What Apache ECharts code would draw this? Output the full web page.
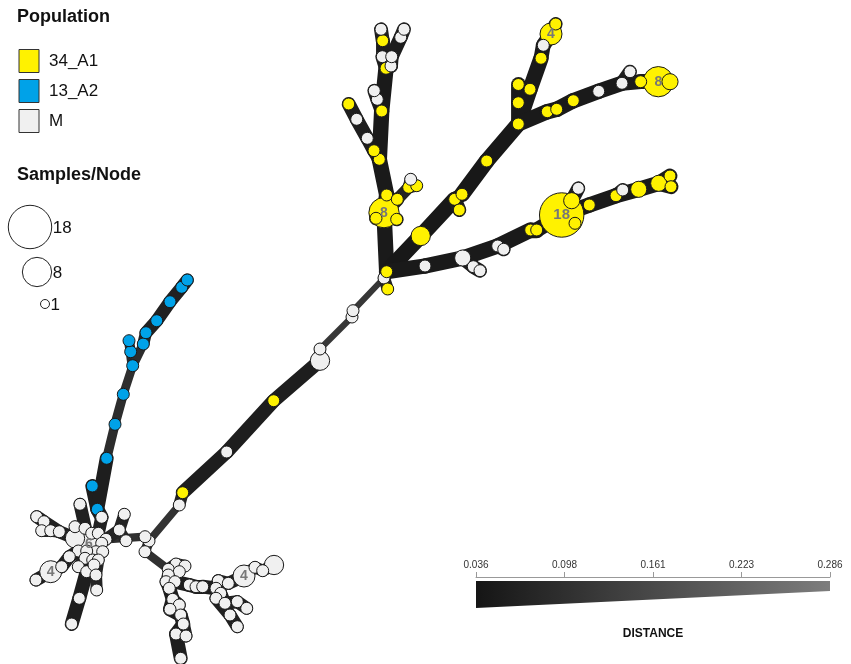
<!DOCTYPE html>
<html>
<head>
<meta charset="utf-8">
<title>Minimum spanning tree</title>
<script src="https://cdn.jsdelivr.net/npm/echarts@6/dist/echarts.min.js"></script>
<style>
  html, body { margin: 0; padding: 0; background: #fff; }
  #chart { width: 851px; height: 664px; }
</style>
</head>
<body>
<div id="chart"></div>
<script>
// node rows: [id, x, y, population, samples]  (x, y are layout coordinates)
const trunkNodes = [
  ['b1', 149, 541, 'M', 1], ['b0', 145, 536.7, 'M', 1], ['b2', 145, 551.7, 'M', 1],
  ['t1', 179.3, 505, 'M', 1], ['t2', 182.7, 492.7, 'A1', 1], ['t3', 226.7, 452, 'M', 1],
  ['t4', 273.7, 400.7, 'A1', 1], ['t5', 320, 360.7, 'M', 3], ['t6', 320, 349, 'M', 1],
  ['t7', 352, 317, 'M', 1], ['t8', 353, 310.7, 'M', 1], ['t9', 384, 278, 'M', 1],
  ['t10', 386.7, 271.7, 'A1', 1], ['t11', 387.7, 289, 'A1', 1]
]
const verticalNodes = [
  ['v2', 384, 212.7, 'A1', 8], ['v1', 386.7, 195, 'A1', 1], ['v2a', 376, 218.3, 'A1', 1],
  ['v2b', 396.7, 219.3, 'A1', 1], ['v2c', 397.3, 199.3, 'A1', 1], ['v2d', 408.7, 187.3, 'A1', 1],
  ['v2e', 416.7, 185.7, 'A1', 1], ['v2f', 410.7, 179.3, 'M', 1], ['v3', 379.3, 159.3, 'A1', 1],
  ['v4', 374, 150.7, 'A1', 1], ['v5', 367.3, 138.3, 'M', 1], ['v6', 356.7, 119.3, 'M', 1],
  ['v7', 348.7, 104, 'A1', 1], ['v8', 381.7, 111, 'A1', 1], ['v9', 377.3, 99.3, 'M', 1],
  ['v10', 374.3, 90.7, 'M', 1], ['v11', 386, 68.3, 'A1', 1], ['v12', 391, 66, 'M', 1],
  ['v13', 382.3, 56.7, 'M', 1], ['v14', 382.7, 40.7, 'A1', 1], ['v15', 381, 29.3, 'M', 1],
  ['v16', 391.7, 56.7, 'M', 1], ['v17', 400.7, 37.3, 'M', 1], ['v18', 404, 29.3, 'M', 1]
]
const diagonalNodes = [
  ['d1', 420.7, 236, 'A1', 3], ['d2', 454.7, 199.3, 'A1', 1], ['d3', 462, 194.3, 'A1', 1],
  ['d4', 459.3, 210, 'A1', 1], ['d5', 486.7, 161, 'A1', 1], ['d6', 518.3, 124, 'A1', 1],
  ['d7', 518.3, 102.7, 'A1', 1], ['d8', 518.3, 84.5, 'A1', 1], ['d9', 530, 89.3, 'A1', 1],
  ['d10', 541, 58.3, 'A1', 1], ['d11', 543.3, 45.3, 'M', 1], ['d12', 551, 34, 'A1', 4],
  ['d13', 555.7, 24, 'A1', 1], ['d14', 547.3, 111.7, 'A1', 1], ['d15', 556.7, 109.3, 'A1', 1],
  ['d16', 573.3, 100.7, 'A1', 1], ['d17', 598.7, 91.3, 'M', 1], ['d18', 622, 83.3, 'M', 1],
  ['d19', 630, 71.7, 'M', 1], ['d20', 640.7, 81.7, 'A1', 1], ['d21', 658.3, 81.7, 'A1', 8],
  ['d22', 670, 81.7, 'A1', 2]
]
const lowerNodes = [
  ['l1', 425, 266, 'M', 1], ['l2', 462.7, 258, 'M', 2], ['l3', 473.3, 266.7, 'M', 1],
  ['l4', 480, 270.7, 'M', 1], ['l5', 497.7, 246, 'M', 1], ['l6', 503.7, 249.3, 'M', 1],
  ['l7', 530.7, 230, 'A1', 1], ['l8', 536.7, 230, 'A1', 1], ['l9', 561.7, 215, 'A1', 18],
  ['l10', 571.7, 200.7, 'A1', 2], ['l11', 578.3, 188.3, 'M', 1], ['l12', 575, 223.3, 'A1', 1],
  ['l13', 589.3, 205, 'A1', 1], ['l14', 616, 195.7, 'A1', 1], ['l15', 622.7, 190, 'M', 1],
  ['l16', 638.7, 189.3, 'A1', 2], ['l17', 658.7, 183.3, 'A1', 2], ['l18', 670, 176, 'A1', 1],
  ['l19', 671, 186.7, 'A1', 1]
]
const blueNodes = [
  ['p1', 97.3, 509.3, 'A2', 1], ['p2', 92.3, 486, 'A2', 1], ['p3', 106.7, 458.3, 'A2', 1],
  ['p4', 115, 424.3, 'A2', 1], ['p5', 123.3, 394.3, 'A2', 1], ['p6', 132.7, 365.7, 'A2', 1],
  ['p7', 130.7, 351.7, 'A2', 1], ['p8', 129, 340.7, 'A2', 1], ['p9', 143.3, 344, 'A2', 1],
  ['p10', 146, 332.7, 'A2', 1], ['p11', 156.7, 320.7, 'A2', 1], ['p12', 170, 301.7, 'A2', 1],
  ['p13', 181.7, 287.3, 'A2', 1], ['p14', 187.3, 280, 'A2', 1]
]
const leftClusterNodes = [
  ['c6', 89, 544, 'M', 6], ['c1', 80, 504.3, 'M', 1], ['c2', 101.7, 517.3, 'M', 1],
  ['c3', 124.3, 514.3, 'M', 1], ['c4', 119.3, 530, 'M', 1], ['c5', 126, 540.7, 'M', 1],
  ['c7', 36.7, 516.7, 'M', 1], ['c8', 44, 521.7, 'M', 1], ['c9', 41.7, 530.7, 'M', 1],
  ['c10', 50.7, 530.7, 'M', 1], ['c11', 59.3, 531.7, 'M', 1], ['c12', 75, 538.3, 'M', 3],
  ['c13', 75, 526.7, 'M', 1], ['c14', 85, 528.3, 'M', 1], ['c15', 91.7, 533.3, 'M', 1],
  ['c16', 98.3, 533.3, 'M', 1], ['c17', 106, 539.3, 'M', 1], ['c18', 101.7, 543.3, 'M', 1],
  ['c19', 96, 551.7, 'M', 1], ['c20', 102.7, 551.7, 'M', 1], ['c21', 78.3, 551, 'M', 1],
  ['c22', 86.7, 551, 'M', 1], ['c23', 69.3, 556.7, 'M', 1], ['c24', 85, 558.3, 'M', 1],
  ['c25', 92.7, 560, 'M', 1], ['c26', 98.3, 560, 'M', 1], ['c27', 61.7, 566.7, 'M', 1],
  ['c28', 78.3, 566.7, 'M', 1], ['c29', 86.7, 571.7, 'M', 1], ['c30', 94, 565, 'M', 1],
  ['c31', 96, 575, 'M', 1], ['c32', 50.7, 571.7, 'M', 4], ['c33', 36, 580, 'M', 1],
  ['c34', 79.3, 598.3, 'M', 1], ['c35', 96.7, 590, 'M', 1], ['c36', 71.7, 624, 'M', 1]
]
const midClusterNodes = [
  ['m1', 176, 564, 'M', 1], ['m2', 185, 566, 'M', 1], ['m3', 168.3, 569.3, 'M', 1],
  ['m4', 179.3, 571.7, 'M', 1], ['m5', 168.3, 575, 'M', 1], ['m6', 166, 581.7, 'M', 1],
  ['m7', 175, 581.7, 'M', 1], ['m8', 169.3, 588.3, 'M', 1], ['m9', 172.7, 599.3, 'M', 1],
  ['m10', 179.3, 605, 'M', 1], ['m11', 170, 609.3, 'M', 1], ['m12', 180.7, 615, 'M', 1],
  ['m13', 183.3, 624, 'M', 1], ['m14', 176, 634, 'M', 1], ['m15', 186, 636, 'M', 1],
  ['m16', 180.7, 658.3, 'M', 1], ['m17', 189.3, 585, 'M', 1], ['m18', 196, 586.7, 'M', 1],
  ['m19', 202.7, 586.7, 'M', 1], ['m20', 218.3, 580.7, 'M', 1], ['m21', 228.3, 583.3, 'M', 1],
  ['m22', 216, 588.3, 'M', 1], ['m23', 220.7, 593.3, 'M', 1], ['m24', 216, 598.3, 'M', 1],
  ['m25', 225, 603.3, 'M', 1], ['m26', 237.3, 601.7, 'M', 1], ['m27', 246.7, 608.3, 'M', 1],
  ['m28', 230, 615, 'M', 1], ['m29', 237.3, 626.7, 'M', 1], ['m30', 244, 576, 'M', 4],
  ['m31', 255, 567.3, 'M', 1], ['m32', 262.7, 570.7, 'M', 1], ['m33', 274, 565, 'M', 3]
]

// edge rows: [source, target, distance]
const trunkEdges = [
  ['b1', 'b0', 0.07], ['b1', 'b2', 0.07], ['b1', 't1', 0.085], ['t1', 't2', 0.06],
  ['t2', 't3', 0.05], ['t3', 't4', 0.05], ['t4', 't5', 0.05], ['t5', 't6', 0.06],
  ['t6', 't7', 0.092], ['t7', 't8', 0.07], ['t8', 't9', 0.092], ['t9', 't10', 0.06],
  ['t9', 't11', 0.06]
]
const verticalEdges = [
  ['t10', 'v2', 0.042], ['v2', 'v1', 0.042], ['v2', 'v2a', 0.05], ['v2', 'v2b', 0.05],
  ['v2', 'v2c', 0.05], ['v2c', 'v2d', 0.06], ['v2d', 'v2e', 0.06], ['v2d', 'v2f', 0.06],
  ['v1', 'v3', 0.042], ['v3', 'v4', 0.05], ['v4', 'v5', 0.05], ['v5', 'v6', 0.05],
  ['v6', 'v7', 0.05], ['v3', 'v8', 0.042], ['v8', 'v9', 0.05], ['v9', 'v10', 0.05],
  ['v8', 'v11', 0.042], ['v11', 'v12', 0.05], ['v11', 'v13', 0.05], ['v13', 'v14', 0.05],
  ['v14', 'v15', 0.05], ['v12', 'v16', 0.05], ['v16', 'v17', 0.05], ['v17', 'v18', 0.05]
]
const diagonalEdges = [
  ['t10', 'd1', 0.04], ['d1', 'd2', 0.04], ['d2', 'd3', 0.05], ['d2', 'd4', 0.05],
  ['d3', 'd5', 0.04], ['d5', 'd6', 0.04], ['d6', 'd7', 0.045], ['d7', 'd8', 0.045],
  ['d6', 'd9', 0.042], ['d9', 'd10', 0.042], ['d10', 'd11', 0.045], ['d11', 'd12', 0.045],
  ['d12', 'd13', 0.05], ['d6', 'd14', 0.042], ['d14', 'd15', 0.042], ['d15', 'd16', 0.042],
  ['d16', 'd17', 0.042], ['d17', 'd18', 0.042], ['d18', 'd19', 0.05], ['d18', 'd20', 0.045],
  ['d20', 'd21', 0.045], ['d21', 'd22', 0.05]
]
const lowerEdges = [
  ['t10', 'l1', 0.042], ['l1', 'l2', 0.042], ['l2', 'l3', 0.05], ['l3', 'l4', 0.05],
  ['l2', 'l5', 0.042], ['l5', 'l6', 0.05], ['l5', 'l7', 0.042], ['l7', 'l8', 0.042],
  ['l8', 'l9', 0.042], ['l9', 'l10', 0.045], ['l10', 'l11', 0.05], ['l9', 'l12', 0.05],
  ['l9', 'l13', 0.042], ['l13', 'l14', 0.042], ['l14', 'l15', 0.05], ['l14', 'l16', 0.042],
  ['l16', 'l17', 0.042], ['l17', 'l18', 0.045], ['l17', 'l19', 0.045]
]
const blueEdges = [
  ['c2', 'p1', 0.05], ['p1', 'p2', 0.05], ['p1', 'p3', 0.05], ['p3', 'p4', 0.075],
  ['p4', 'p5', 0.075], ['p5', 'p6', 0.078], ['p6', 'p7', 0.07], ['p7', 'p8', 0.07],
  ['p6', 'p9', 0.075], ['p9', 'p10', 0.06], ['p10', 'p11', 0.055], ['p11', 'p12', 0.055],
  ['p12', 'p13', 0.055], ['p13', 'p14', 0.055]
]
const leftClusterEdges = [
  ['b0', 'c17', 0.08], ['c6', 'c18', 0.06], ['c6', 'c12', 0.06], ['c6', 'c16', 0.06],
  ['c6', 'c15', 0.06], ['c6', 'c14', 0.06], ['c14', 'c13', 0.06], ['c6', 'c1', 0.055],
  ['c16', 'c2', 0.055], ['c17', 'c4', 0.06], ['c4', 'c3', 0.06], ['c4', 'c5', 0.065],
  ['c18', 'c17', 0.06], ['c12', 'c11', 0.055], ['c11', 'c10', 0.06], ['c10', 'c9', 0.06],
  ['c11', 'c8', 0.055], ['c8', 'c7', 0.055], ['c6', 'c22', 0.06], ['c22', 'c21', 0.06],
  ['c21', 'c23', 0.055], ['c23', 'c27', 0.055], ['c27', 'c32', 0.055], ['c32', 'c33', 0.055],
  ['c6', 'c19', 0.06], ['c19', 'c20', 0.06], ['c22', 'c24', 0.06], ['c24', 'c28', 0.06],
  ['c24', 'c29', 0.055], ['c29', 'c34', 0.05], ['c34', 'c36', 0.05], ['c19', 'c25', 0.06],
  ['c25', 'c30', 0.06], ['c25', 'c26', 0.06], ['c26', 'c31', 0.06], ['c31', 'c35', 0.06]
]
const midClusterEdges = [
  ['b2', 'm3', 0.08], ['m3', 'm1', 0.06], ['m1', 'm2', 0.06], ['m3', 'm4', 0.06],
  ['m3', 'm5', 0.06], ['m5', 'm6', 0.06], ['m5', 'm7', 0.06], ['m6', 'm8', 0.055],
  ['m8', 'm9', 0.05], ['m9', 'm10', 0.055], ['m9', 'm11', 0.05], ['m11', 'm12', 0.05],
  ['m12', 'm13', 0.05], ['m13', 'm14', 0.05], ['m13', 'm15', 0.055], ['m14', 'm16', 0.05],
  ['m7', 'm17', 0.05], ['m17', 'm18', 0.05], ['m18', 'm19', 0.05], ['m19', 'm22', 0.05],
  ['m22', 'm20', 0.055], ['m20', 'm21', 0.055], ['m21', 'm30', 0.055], ['m30', 'm31', 0.06],
  ['m31', 'm32', 0.06], ['m32', 'm33', 0.06], ['m22', 'm23', 0.055], ['m23', 'm24', 0.055],
  ['m23', 'm25', 0.055], ['m25', 'm26', 0.055], ['m26', 'm27', 0.055], ['m24', 'm28', 0.055],
  ['m28', 'm29', 0.055]
]

const populationNames = ['34_A1', '13_A2', 'M']
const populationKeys = ['A1', 'A2', 'M']
const sizeLegendSamples = [18, 8, 1]
const distanceTicks = ['0.036', '0.098', '0.161', '0.223', '0.286']

const FONT = '"Liberation Sans", Arial, sans-serif'
const popColor = { A1: '#FFF200', A2: '#00A2E8', M: '#F0F0F0' }

// 节点直径随样本数变化
const sizeOf = (n) => 10 * Math.sqrt(n) + 2

// 距离越短 边越粗越黑
const edgeWidth = (d) => Math.max(4.5, 16.5 - (d - 0.036) * 185)
const edgeColor = (d) => {
  const t = Math.min(1, Math.max(0, (d - 0.036) / 0.064))
  const v = Math.round(0x16 + t * (0x3c - 0x16))
  return 'rgb(' + v + ',' + v + ',' + v + ')'
}

const allNodes = [].concat(trunkNodes, verticalNodes, diagonalNodes, lowerNodes,
  blueNodes, leftClusterNodes, midClusterNodes)
const allEdges = [].concat(trunkEdges, verticalEdges, diagonalEdges, lowerEdges,
  blueEdges, leftClusterEdges, midClusterEdges)

// 大节点先画，小节点压在上面
const nodeData = allNodes
  .map((r, i) => ({ r, i }))
  .sort((a, b) => (b.r[4] - a.r[4]) || (a.i - b.i))
  .map(({ r }) => ({
    name: r[0],
    value: [r[1], r[2]],
    symbolSize: sizeOf(r[4]),
    itemStyle: { color: popColor[r[3]] },
    label: { show: r[4] >= 4, formatter: String(r[4]), fontSize: r[4] >= 18 ? 15 : 14 }
  }))

const linkData = allEdges.map((e) => ({
  source: e[0],
  target: e[1],
  lineStyle: { width: edgeWidth(e[2]), color: edgeColor(e[2]) }
}))

// 图例
const legendGraphics = []
legendGraphics.push({
  type: 'text', left: 17, top: 8,
  style: { text: 'Population', font: 'bold 18px ' + FONT, fill: '#111' }
})
populationNames.forEach((name, i) => {
  const cy = 61 + i * 30
  legendGraphics.push({
    type: 'rect', shape: { x: 19, y: cy - 11.5, width: 20, height: 23 },
    style: { fill: popColor[populationKeys[i]], stroke: '#333', lineWidth: 1 }
  })
  legendGraphics.push({
    type: 'text', x: 49, y: cy,
    style: { text: name, font: '17px ' + FONT, fill: '#111', textVerticalAlign: 'middle' }
  })
})
legendGraphics.push({
  type: 'text', left: 17, top: 166,
  style: { text: 'Samples/Node', font: 'bold 18px ' + FONT, fill: '#111' }
})
const sizeCenters = [[30, 227], [37, 272], [45, 304]]
sizeLegendSamples.forEach((n, i) => {
  const r = n === 1 ? 4.5 : (10 * Math.sqrt(n) + 1) / 2
  const [cx, cy] = sizeCenters[i]
  legendGraphics.push({
    type: 'circle', shape: { cx, cy, r },
    style: { fill: '#fff', stroke: '#222', lineWidth: 1 }
  })
  legendGraphics.push({
    type: 'text', x: cx + r + 1, y: cy + 1,
    style: { text: String(n), font: '17px ' + FONT, fill: '#111', textVerticalAlign: 'middle' }
  })
})
// 距离色带
legendGraphics.push({
  type: 'polygon',
  shape: { points: [[476, 581], [830, 581], [830, 591], [476, 608]] },
  style: {
    fill: new echarts.graphic.LinearGradient(0, 0, 1, 0, [
      { offset: 0, color: '#151515' },
      { offset: 1, color: '#7d7d7d' }
    ])
  }
})
legendGraphics.push({
  type: 'text', x: 653, y: 634,
  style: { text: 'DISTANCE', font: 'bold 12px ' + FONT, fill: '#111', textAlign: 'center', textVerticalAlign: 'middle' }
})

const chart = echarts.init(document.getElementById('chart'), null, { renderer: 'canvas' })
chart.setOption({
  animation: false,
  backgroundColor: '#fff',
  grid: [
    { left: 0, right: 0, top: 0, bottom: 0 },
    { left: 476, width: 354, top: 576, height: 1 }
  ],
  xAxis: [
    { gridIndex: 0, type: 'value', min: 0, max: 851, show: false },
    {
      gridIndex: 1, type: 'category', data: distanceTicks, boundaryGap: false, position: 'top',
      axisLine: { show: true, lineStyle: { color: '#999', width: 1 } },
      axisTick: { show: true, length: 5, lineStyle: { color: '#999' } },
      axisLabel: { color: '#333', fontSize: 10, margin: 6, fontFamily: FONT },
      splitLine: { show: false }
    }
  ],
  yAxis: [
    { gridIndex: 0, type: 'value', min: 0, max: 664, inverse: true, show: false },
    { gridIndex: 1, type: 'value', show: false }
  ],
  graphic: legendGraphics,
  series: [
    {
      type: 'graph',
      coordinateSystem: 'cartesian2d',
      xAxisIndex: 0,
      yAxisIndex: 0,
      symbol: 'circle',
      data: nodeData,
      links: linkData,
      itemStyle: { borderColor: '#1a1a1a', borderWidth: 1 },
      lineStyle: { opacity: 1, curveness: 0, cap: 'round' },
      label: { position: 'inside', color: '#777', fontWeight: 'bold', fontFamily: FONT },
      emphasis: { disabled: true },
      silent: true
    }
  ]
})
</script>
</body>
</html>
